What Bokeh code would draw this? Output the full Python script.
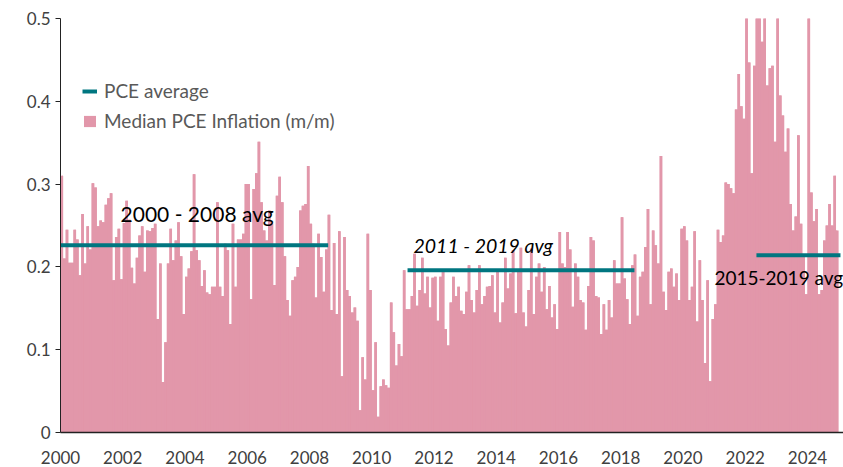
from bokeh.plotting import figure
from bokeh.models import (Range1d, FixedTicker, CustomJSTickFormatter, Legend, LegendItem,
                          ColumnDataSource, Label)
from bokeh.embed import file_html
from bokeh.resources import INLINE

# ---------------- data (monthly median PCE inflation, m/m %) ----------------
start_year = 2000
pce_2000_2004 = [
    0.31, 0.21, 0.245, 0.205, 0.205, 0.245, 0.233, 0.19, 0.264, 0.204, 0.249, 0.221,
    0.301, 0.296, 0.249, 0.256, 0.254, 0.275, 0.283, 0.289, 0.184, 0.236, 0.246, 0.185,
    0.253, 0.28, 0.257, 0.199, 0.18, 0.211, 0.238, 0.249, 0.194, 0.244, 0.243, 0.247,
    0.252, 0.137, 0.204, 0.061, 0.109, 0.204, 0.246, 0.208, 0.232, 0.254, 0.213, 0.143,
    0.188, 0.198, 0.219, 0.312, 0.22, 0.208, 0.177, 0.196, 0.169, 0.167, 0.176, 0.176,
]
pce_2005_2009 = [
    0.278, 0.176, 0.165, 0.228, 0.22, 0.131, 0.252, 0.176, 0.233, 0.233, 0.24, 0.30,
    0.30, 0.161, 0.294, 0.313, 0.351, 0.278, 0.244, 0.232, 0.268, 0.252, 0.178, 0.286,
    0.309, 0.278, 0.213, 0.160, 0.141, 0.184, 0.188, 0.200, 0.268, 0.274, 0.276, 0.322,
    0.252, 0.228, 0.163, 0.24, 0.212, 0.170, 0.221, 0.263, 0.148, 0.229, 0.143, 0.243,
    0.068, 0.236, 0.172, 0.165, 0.145, 0.151, 0.135, 0.027, 0.091, 0.064, 0.24, 0.172,
]
pce_2010_2014 = [
    0.051, 0.109, 0.019, 0.056, 0.064, 0.057, 0.054, 0.157, 0.121, 0.081, 0.107, 0.092,
    0.196, 0.149, 0.149, 0.165, 0.216, 0.153, 0.172, 0.211, 0.168, 0.188, 0.151, 0.187,
    0.188, 0.135, 0.188, 0.194, 0.125, 0.105, 0.157, 0.188, 0.165, 0.176, 0.147, 0.143,
    0.170, 0.202, 0.160, 0.145, 0.172, 0.202, 0.155, 0.165, 0.176, 0.177, 0.19, 0.145,
    0.194, 0.133, 0.157, 0.211, 0.174, 0.192, 0.22, 0.144, 0.194, 0.223, 0.145, 0.128,
]
pce_2015_2019 = [
    0.172, 0.222, 0.143, 0.188, 0.204, 0.170, 0.2, 0.149, 0.177, 0.139, 0.155, 0.125,
    0.242, 0.204, 0.2, 0.242, 0.221, 0.152, 0.204, 0.188, 0.160, 0.157, 0.124, 0.177,
    0.236, 0.232, 0.165, 0.163, 0.119, 0.155, 0.124, 0.160, 0.139, 0.208, 0.180, 0.180,
    0.26, 0.186, 0.161, 0.131, 0.202, 0.215, 0.141, 0.188, 0.194, 0.224, 0.27, 0.155,
    0.244, 0.226, 0.204, 0.334, 0.170, 0.148, 0.194, 0.198, 0.176, 0.192, 0.160, 0.246,
]
pce_2020_2024 = [
    0.249, 0.232, 0.160, 0.176, 0.243, 0.134, 0.208, 0.160, 0.084, 0.184, 0.062, 0.137,
    0.155, 0.245, 0.23, 0.238, 0.302, 0.30, 0.295, 0.289, 0.39, 0.433, 0.394, 0.379,
    0.55, 0.447, 0.313, 0.443, 0.56, 0.53, 0.472, 0.6, 0.419, 0.44, 0.443, 0.351,
    0.52, 0.407, 0.383, 0.339, 0.367, 0.276, 0.244, 0.261, 0.359, 0.252, 0.212, 0.167,
    0.58, 0.29, 0.255, 0.27, 0.167, 0.172, 0.232, 0.25, 0.276, 0.25, 0.31, 0.244,
]

avg_labels = ["2000 - 2008 avg", "2011 - 2019 avg", "2015-2019 avg"]
avg_values = [0.226, 0.196, 0.214]
avg_start = [2000.0, 2011.15, 2022.36]
avg_end = [2008.6, 2018.44, 2025.06]

x_tick_years = list(range(2000, 2025, 2))
y_ticks = [0, 0.1, 0.2, 0.3, 0.4, 0.5]

# ---------------- build ----------------
values = pce_2000_2004 + pce_2005_2009 + pce_2010_2014 + pce_2015_2019 + pce_2020_2024
months = [start_year + (i + 0.5) / 12 for i in range(len(values))]

BAR = "#E297AA"
TEAL = "#007680"
FONT = "Lato"

p = figure(width=843, height=467, output_backend="svg", toolbar_location=None,
           x_range=Range1d(2000, 2025.157), y_range=Range1d(0, 0.5),
           min_border_left=60, min_border_right=0, min_border_top=18, min_border_bottom=35)
p.outline_line_color = None
p.grid.visible = False
p.background_fill_color = "white"
p.border_fill_color = "white"

src = ColumnDataSource(dict(x=months, top=values))
# solid underlay (same data) so that the columns render without seams
p.varea_step(x="x", y1=0, y2="top", step_mode="center", source=src, fill_color=BAR)
bars = p.vbar(x="x", top="top", width=1 / 12, bottom=0, source=src,
              fill_color=BAR, line_color=None)

seg = p.segment(x0="x0", y0="y", x1="x1", y1="y",
                source=ColumnDataSource(dict(x0=avg_start, x1=avg_end, y=avg_values)),
                line_color=TEAL, line_width=4)

# axes
p.xaxis.ticker = FixedTicker(ticks=x_tick_years)
p.xaxis.axis_line_color = "#222222"
p.xaxis.axis_line_width = 1.5
p.xaxis.major_tick_line_color = None
p.xaxis.minor_tick_line_color = None
p.xaxis.major_tick_out = 0
p.xaxis.major_label_standoff = 18
p.xaxis.major_label_text_font = FONT
p.xaxis.major_label_text_font_size = "17px"
p.xaxis.major_label_text_color = "#404040"

p.yaxis.ticker = FixedTicker(ticks=y_ticks)
p.yaxis.formatter = CustomJSTickFormatter(code="return tick == 0 ? '0' : tick.toFixed(1);")
p.yaxis.axis_line_color = "#222222"
p.yaxis.axis_line_width = 1
p.yaxis.major_tick_line_color = "#222222"
p.yaxis.major_tick_out = 5
p.yaxis.major_tick_in = 0
p.yaxis.minor_tick_line_color = None
p.yaxis.major_label_standoff = 5
p.yaxis.major_label_text_font = FONT
p.yaxis.major_label_text_font_size = "17px"
p.yaxis.major_label_text_color = "#404040"

# average labels
label_pos = [(2001.93, 0.2645, "normal", "21px"),
             (2011.34, 0.226, "italic", "19.5px"),
             (2021.01, 0.187, "normal", "19px")]
for txt, (lx, ly, style, size) in zip(avg_labels, label_pos):
    p.add_layout(Label(x=lx, y=ly, text=txt, text_font=FONT, text_font_size=size,
                       text_font_style=style, text_color="black", text_baseline="middle"))

legend = Legend(items=[LegendItem(label="PCE average", renderers=[seg]),
                       LegendItem(label="Median PCE Inflation (m/m)", renderers=[bars])],
                location=(22, 300), orientation="vertical",
                background_fill_alpha=0, border_line_alpha=0,
                label_text_font=FONT, label_text_font_size="19px", label_text_color="#595959",
                glyph_width=15, glyph_height=14, label_standoff=7, spacing=7,
                padding=0, margin=0)
p.add_layout(legend)

open("out.html", "w").write(file_html(p, INLINE))
